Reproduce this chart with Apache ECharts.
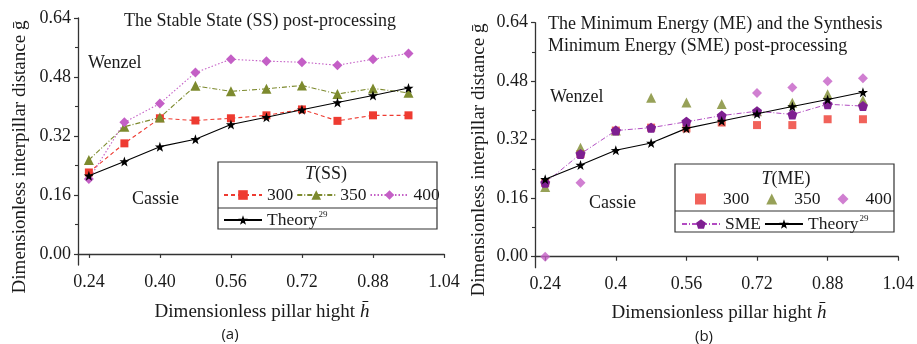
<!DOCTYPE html>
<html>
<head>
<meta charset="utf-8">
<script src="https://cdn.jsdelivr.net/npm/echarts@6/dist/echarts.min.js"></script>
<style>
  html, body { margin: 0; padding: 0; background: #fff; }
  #chart { width: 917px; height: 344px; }
</style>
</head>
<body>
<div id="chart"></div>
<script>
// Dimensionless pillar height values (x)
const pillarHeights = [0.24, 0.32, 0.40, 0.48, 0.56, 0.64, 0.72, 0.80, 0.88, 0.96];

// Theoretical transition curve (ref. 29)
const theory = [0.212, 0.251, 0.291, 0.311, 0.351, 0.371, 0.391, 0.411, 0.430, 0.450];

// (a) Stable State post-processing, per temperature
const ss300 = [0.221, 0.300, 0.368, 0.362, 0.368, 0.376, 0.392, 0.361, 0.376, 0.376];
const ss350 = [0.255, 0.345, 0.370, 0.456, 0.441, 0.448, 0.457, 0.434, 0.449, 0.437];
const ss400 = [0.203, 0.357, 0.408, 0.492, 0.528, 0.523, 0.520, 0.512, 0.528, 0.544];

// (b) Minimum Energy post-processing, per temperature, and the synthesis
const me300 = [0.202, 0.281, 0.345, 0.353, 0.351, 0.367, 0.360, 0.360, 0.376, 0.376];
const me350 = [0.191, 0.298, 0.345, 0.435, 0.422, 0.418, 0.398, 0.421, 0.444, 0.428];
const me400 = [0.000, 0.202, 0.345, 0.353, 0.369, 0.386, 0.448, 0.463, 0.480, 0.488];
const sme   = [0.202, 0.281, 0.345, 0.353, 0.369, 0.386, 0.398, 0.389, 0.417, 0.412];

// Axis tick labels
const xTicks = [0.24, 0.40, 0.56, 0.72, 0.88, 1.04];
const xTickLabelsA = ['0.24', '0.40', '0.56', '0.72', '0.88', '1.04'];
const xTickLabelsB = ['0.24', '0.4', '0.56', '0.72', '0.88', '1.04'];
const yTicks = [0.00, 0.16, 0.32, 0.48, 0.64];
const yMinorTicks = [0.08, 0.24, 0.40, 0.56];

const SERIF = '"Liberation Serif", "DejaVu Serif", serif';
const AXIS_COLOR = '#333';
const RED = '#ee3b31';
const OLIVE = '#7d8a2e';
const PINK = '#c45fc6';
const PURPLE = '#7e1f91';
const SME_LINE = '#b24cc2';

const STAR = 'path://M0,-10 L2.35,-3.24 L9.51,-3.09 L3.8,1.24 L5.88,8.09 L0,4 L-5.88,8.09 L-3.8,1.24 L-9.51,-3.09 L-2.35,-3.24 Z';
const PENTAGON = 'path://M0,-10 L9.51,-3.09 L5.88,8.09 L-5.88,8.09 L-9.51,-3.09 Z';

const pairs = arr => pillarHeights.map((h, i) => [h, arr[i]]);

const legendLabels = {
  ss300: '300', ss350: '350', ss400: '400',
  me300: '300', me350: '350', me400: '400',
  theoryA: '{t|Theory}{s|29}', theoryB: '{t|Theory}{s|29}', sme: '{t|SME}'
};
const legendText = {
  fontFamily: SERIF, fontSize: 17.5, color: '#1a1a1a',
  rich: {
    t: { fontFamily: SERIF, fontSize: 17.5, color: '#1a1a1a', lineHeight: 20 },
    s: { fontFamily: SERIF, fontSize: 9, color: '#1a1a1a', verticalAlign: 'top', lineHeight: 20, padding: [0, 0, 10, 1] }
  }
};

function xAxis(gridIndex, labels, min) {
  return {
    type: 'value', gridIndex, min, max: 1.04,
    axisLine: { show: true, lineStyle: { color: AXIS_COLOR, width: 1.3 } },
    axisTick: { show: true, inside: false, length: 4, customValues: xTicks, lineStyle: { color: AXIS_COLOR, width: 1.2 } },
    axisLabel: {
      customValues: xTicks, margin: 8,
      fontFamily: SERIF, fontSize: 18, color: '#1a1a1a',
      formatter: v => labels[xTicks.findIndex(t => Math.abs(t - v) < 1e-6)]
    },
    splitLine: { show: false }
  };
}
function yAxis(gridIndex) {
  return {
    type: 'value', gridIndex, min: -0.03, max: 0.64, position: 'left',
    axisLine: { show: true, lineStyle: { color: AXIS_COLOR, width: 1.3 } },
    axisTick: { show: true, inside: false, length: 4, customValues: yTicks, lineStyle: { color: AXIS_COLOR, width: 1.2 } },
    axisLabel: {
      customValues: yTicks, margin: 7,
      fontFamily: SERIF, fontSize: 18, color: '#1a1a1a',
      formatter: v => v.toFixed(2)
    },
    splitLine: { show: false }
  };
}
// Minor ticks on the value axes
function yMinorAxis(gridIndex) {
  return {
    type: 'value', gridIndex, min: -0.03, max: 0.64, position: 'left', offset: 0,
    axisLine: { show: false },
    axisTick: { show: true, inside: false, length: 3, customValues: yMinorTicks, lineStyle: { color: AXIS_COLOR, width: 1.1 } },
    axisLabel: { show: false },
    splitLine: { show: false }
  };
}

const lineSeries = (name, data, x, y, color, dash, symbol, size, z) => ({
  name, type: 'line', xAxisIndex: x, yAxisIndex: y, data: pairs(data),
  symbol, symbolSize: size, z,
  lineStyle: { color, width: 1.1, type: dash },
  itemStyle: { color },
  emphasis: { disabled: true }
});
const scatterSeries = (name, data, color, symbol, size) => ({
  name, type: 'scatter', xAxisIndex: 1, yAxisIndex: 2, data: pairs(data),
  symbol, symbolSize: size, z: 2,
  itemStyle: { color },
  emphasis: { disabled: true }
});

const chart = echarts.init(document.getElementById('chart'), null, { renderer: 'canvas' });

const textEl = (text, x, y, size, extra) => ({
  type: 'text', x, y, silent: true,
  style: Object.assign({ text, fontFamily: SERIF, fontSize: size, fill: '#1a1a1a', align: 'left', verticalAlign: 'middle' }, extra || {})
});
const vTextEl = (text, x, y, size) => Object.assign(textEl(text, x, y, size, { align: 'center' }), { rotation: Math.PI / 2 });
const italicRich = size => ({ i: { fontFamily: SERIF, fontSize: size, fontStyle: 'italic', fill: '#1a1a1a' } });

chart.setOption({
  animation: false,
  backgroundColor: '#fff',
  grid: [
    { left: 78, top: 18, width: 366, height: 247 },
    { left: 535, top: 22.7, width: 367, height: 245 }
  ],
  xAxis: [xAxis(0, xTickLabelsA, 0.2155), xAxis(1, xTickLabelsB, 0.2169)],
  yAxis: [yAxis(0), yMinorAxis(0), yAxis(1), yMinorAxis(1)],
  legend: [
    {
      data: ['ss300', 'ss350', 'ss400'], left: 223, top: 186, padding: 0,
      itemWidth: 38, itemHeight: 12, itemGap: 3, selectedMode: false,
      formatter: n => legendLabels[n], textStyle: legendText
    },
    {
      data: ['theoryA'], left: 223, top: 210, padding: 0,
      itemWidth: 38, itemHeight: 12, itemGap: 3, selectedMode: false,
      formatter: n => legendLabels[n], textStyle: legendText
    },
    {
      data: ['me300', 'me350', 'me400'], left: 695, top: 190, padding: 0,
      itemWidth: 11, itemHeight: 11, itemGap: 17, selectedMode: false,
      formatter: n => legendLabels[n],
      textStyle: Object.assign({}, legendText, { padding: [0, 0, 0, 12] })
    },
    {
      data: ['sme', 'theoryB'], left: 681, top: 214, padding: 0,
      itemWidth: 38, itemHeight: 12, itemGap: 3, selectedMode: false,
      formatter: n => legendLabels[n], textStyle: legendText
    }
  ],
  series: [
    lineSeries('ss300', ss300, 0, 0, RED, [4, 3], 'rect', 8, 3),
    lineSeries('ss350', ss350, 0, 0, OLIVE, [5, 2, 1, 2], 'triangle', 10, 3),
    lineSeries('ss400', ss400, 0, 0, PINK, [1.5, 2], 'diamond', 10, 3),
    lineSeries('theoryA', theory, 0, 0, '#000', 'solid', STAR, 10, 4),

    scatterSeries('me300', me300, RED, 'rect', 8),
    scatterSeries('me350', me350, OLIVE, 'triangle', 10),
    scatterSeries('me400', me400, PINK, 'diamond', 10),
    Object.assign(lineSeries('sme', sme, 1, 2, PURPLE, [5, 2, 1, 2], PENTAGON, 10, 3),
      { lineStyle: { color: SME_LINE, width: 1, type: [5, 2, 1, 2] } }),
    lineSeries('theoryB', theory, 1, 2, '#000', 'solid', STAR, 10, 4)
  ],
  graphic: [
    // Panel (a) texts
    textEl('The Stable State (SS) post-processing', 124, 21, 18),
    textEl('Wenzel', 88, 63, 18),
    textEl('Cassie', 132, 199, 18),
    vTextEl('Dimensionless interpillar distance \u1E21', 20, 157, 19),
    textEl('Dimensionless pillar hight {i|h\u0304}', 262, 312, 19, { align: 'center', rich: italicRich(19) }),
    textEl('(a)', 230, 335, 15, { align: 'center', fontFamily: '"Open Sans", "DejaVu Sans", sans-serif' }),
    // Panel (b) texts
    textEl('The Minimum Energy (ME) and the Synthesis', 548, 24, 18),
    textEl('Minimum Energy (SME) post-processing', 548, 46, 18),
    textEl('Wenzel', 550, 97, 18),
    textEl('Cassie', 589, 203, 18),
    vTextEl('Dimensionless interpillar distance \u1E21', 479, 160, 19),
    textEl('Dimensionless pillar hight {i|h\u0304}', 719, 313, 19, { align: 'center', rich: italicRich(19) }),
    textEl('(b)', 704, 337, 15, { align: 'center', fontFamily: '"Open Sans", "DejaVu Sans", sans-serif' }),
    // Legend frames
    { type: 'rect', shape: { x: 218, y: 162, width: 219, height: 67 }, silent: true, z: 10,
      style: { fill: 'none', stroke: '#333', lineWidth: 1.2 } },
    { type: 'line', shape: { x1: 218, y1: 208, x2: 437, y2: 208 }, silent: true, z: 10,
      style: { stroke: '#333', lineWidth: 1.2 } },
    textEl('{i|T}(SS)', 326, 174, 18, { align: 'center', rich: italicRich(18) }),
    { type: 'rect', shape: { x: 675, y: 164, width: 219, height: 68 }, silent: true, z: 10,
      style: { fill: 'none', stroke: '#333', lineWidth: 1.2 } },
    { type: 'line', shape: { x1: 675, y1: 211, x2: 894, y2: 211 }, silent: true, z: 10,
      style: { stroke: '#333', lineWidth: 1.2 } },
    textEl('{i|T}(ME)', 786, 179, 18, { align: 'center', rich: italicRich(18) })
  ]
});
</script>
</body>
</html>
